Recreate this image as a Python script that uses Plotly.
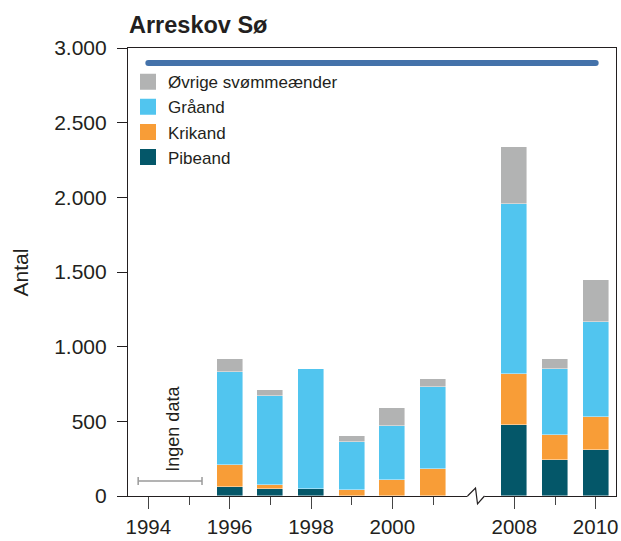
import plotly.graph_objects as go

# ---- data ----
years = [1996, 1997, 1998, 1999, 2000, 2001, 2008, 2009, 2010]
pibeand = [57, 48, 48, 0, 0, 0, 478, 238, 306]
krikand = [152, 23, 0, 40, 110, 178, 341, 172, 225]
graaand = [621, 598, 802, 319, 357, 551, 1139, 438, 636]
oevrige = [88, 40, 0, 42, 123, 53, 381, 70, 282]

series_names = ["Pibeand", "Krikand", "Gråand", "Øvrige svømmeænder"]
series_values = [pibeand, krikand, graaand, oevrige]
series_colors = ["#045769", "#f89d37", "#51c5ef", "#b2b3b3"]

major_tick_years = [1994, 1996, 1998, 2000, 2008, 2010]
minor_tick_years = [1995, 1997, 1999, 2001, 2009]

top_line_years = [1994, 2010]
top_line_level = [2900, 2900]

no_data_years = [1993.75, 1995.32]
no_data_level = 100
no_data_label = "Ingen data"

y_ticks = [0, 500, 1000, 1500, 2000, 2500, 3000]


# broken x axis: 2002-2007 are collapsed
def axis_pos(year):
    return year - 1994 if year <= 2001.5 else year - 1999


x_pos = [axis_pos(y) for y in years]
TEXT = "#231f20"
FONT = "Liberation Sans, Arial, sans-serif"

fig = go.Figure()

for name, vals, col in zip(series_names, series_values, series_colors):
    fig.add_trace(go.Bar(
        x=x_pos, y=vals, name=name, width=0.64,
        marker=dict(color=col, line=dict(color="rgba(255,255,255,0.55)", width=0.8)),
        showlegend=False,
    ))

# legend entries (square swatches)
for name, col in reversed(list(zip(series_names, series_colors))):
    fig.add_trace(go.Scatter(
        x=[None], y=[None], mode="markers", name=name,
        marker=dict(symbol="square", size=16, color=col),
        showlegend=True,
    ))

# thick blue line at the top
fig.add_trace(go.Scatter(
    x=[axis_pos(y) for y in top_line_years], y=top_line_level,
    mode="lines+markers", line=dict(color="#4472aa", width=6),
    marker=dict(color="#4472aa", size=6), showlegend=False, hoverinfo="skip",
))

shapes = []
# "Ingen data" bracket
x0, x1 = axis_pos(no_data_years[0]), axis_pos(no_data_years[1])
shapes.append(dict(type="line", xref="x", yref="y", x0=x0, x1=x1, y0=no_data_level, y1=no_data_level,
                   line=dict(color="#9a9a9a", width=1.5)))
for xx in (x0, x1):
    shapes.append(dict(type="line", xref="x", yref="y", x0=xx, x1=xx, y0=no_data_level - 27,
                       y1=no_data_level + 27, line=dict(color="#9a9a9a", width=1.5)))

# axis break mark
bx = 8.07
px = 1 / 40.8
py = 1 / 454
shapes.append(dict(type="rect", xref="x", yref="paper", x0=bx - 9 * px, x1=bx + 8 * px,
                   y0=-3 * py, y1=3 * py, fillcolor="white", line=dict(width=0), layer="above"))
path = (f"M{bx - 9 * px},0 L{bx - 1 * px},{8 * py} L{bx + 1 * px},{-8 * py} L{bx + 8 * px},0")
shapes.append(dict(type="path", xref="x", yref="paper", path=path,
                   line=dict(color=TEXT, width=1.2), layer="above"))

annotations = [
    dict(text=no_data_label, xref="x", yref="y", x=axis_pos(1994.6), y=449, textangle=-90,
         showarrow=False, font=dict(size=18, color=TEXT, family=FONT)),
    dict(text="Antal", xref="paper", yref="paper", x=(20 - 128) / 490, y=0.5, textangle=-90,
         showarrow=False, font=dict(size=21, color=TEXT, family=FONT), xanchor="center", yanchor="middle"),
]

fig.update_layout(
    width=621, height=541,
    margin=dict(l=128, r=3, t=48, b=39),
    barmode="stack",
    plot_bgcolor="white", paper_bgcolor="white",
    separators=",.",
    font=dict(family=FONT, color=TEXT, size=20),
    title=dict(text="Arreskov Sø", x=129 / 621, xref="container", xanchor="left",
               y=1 - 25 / 541, yref="container", yanchor="middle",
               font=dict(size=23.5, weight="bold", color=TEXT, family=FONT)),
    legend=dict(x=0.0, y=0.964, xanchor="left", yanchor="top", traceorder="normal",
                bgcolor="rgba(0,0,0,0)", font=dict(size=17, color=TEXT, family=FONT),
                itemclick=False),
    shapes=shapes,
    annotations=annotations,
    bargap=0,
)

fig.update_xaxes(
    range=[-0.5, 11.5], showgrid=False, zeroline=False,
    showline=True, linecolor=TEXT, linewidth=1.2, mirror=True,
    tickmode="array", tickvals=[axis_pos(y) for y in major_tick_years],
    ticktext=[str(y) for y in major_tick_years],
    ticks="outside", ticklen=12, tickwidth=1.2, tickcolor="#444",
    tickfont=dict(size=20.5, color=TEXT),
    minor=dict(tickmode="array", tickvals=[axis_pos(y) for y in minor_tick_years],
               ticks="outside", ticklen=8, tickwidth=1.2, tickcolor="#444"),
)
fig.update_yaxes(
    range=[0, 3000], showgrid=False, zeroline=False,
    showline=True, linecolor=TEXT, linewidth=1.2, mirror=True,
    tickmode="array", tickvals=y_ticks, tickformat=",d",
    ticks="outside", ticklen=10, tickwidth=1.2, tickcolor=TEXT,
    tickfont=dict(size=21, color=TEXT), ticklabelstandoff=6,
)

fig.write_html("out.html", post_script="document.body.style.margin='0';",
               config={"displayModeBar": False})
